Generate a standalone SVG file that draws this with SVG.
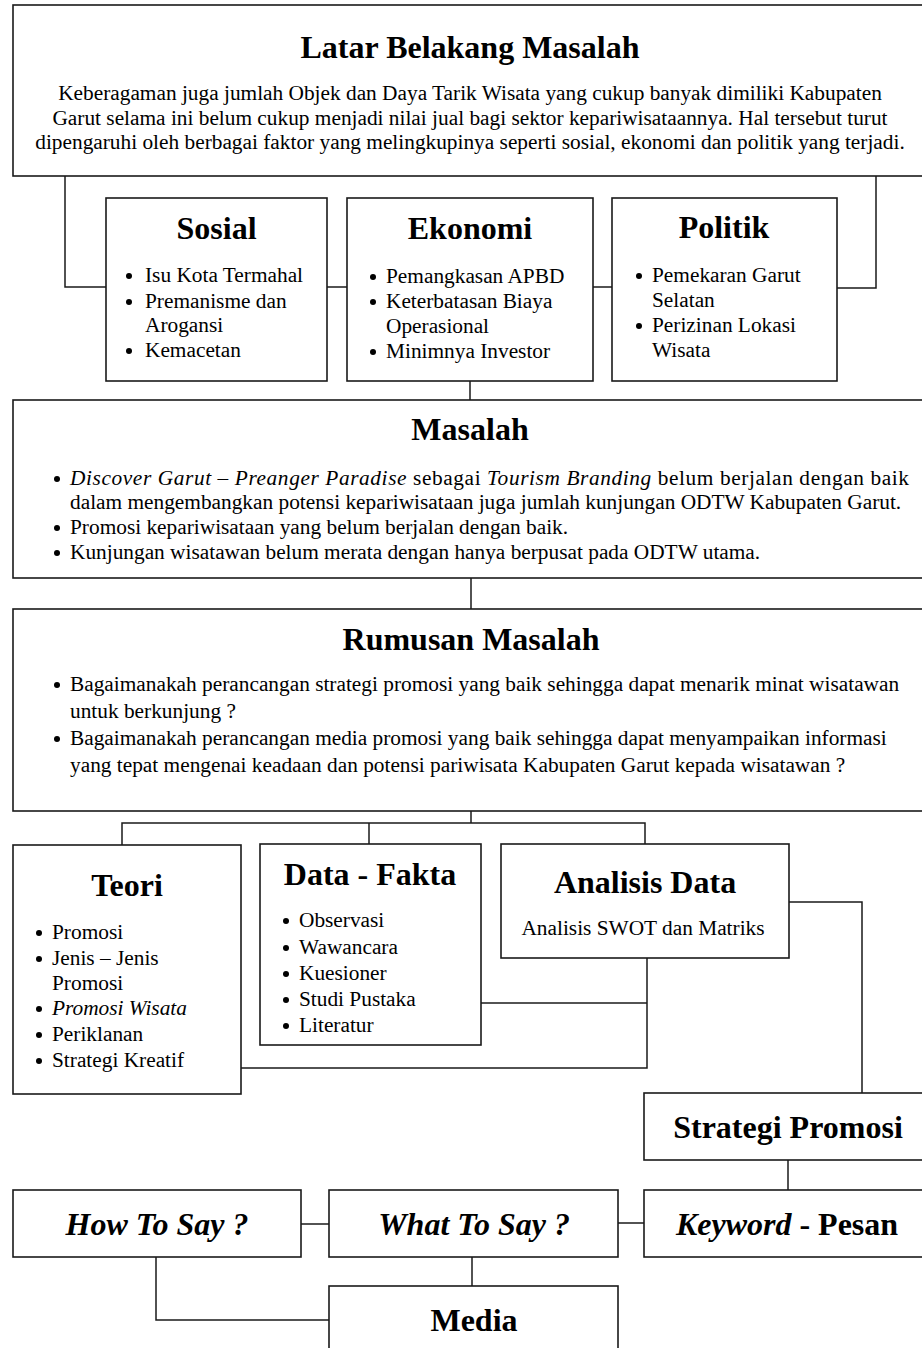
<svg xmlns="http://www.w3.org/2000/svg" width="922" height="1348" viewBox="0 0 922 1348">
<style>
.box{fill:#fff;stroke:#1a1a1a;stroke-width:1.6}
.con{fill:none;stroke:#1a1a1a;stroke-width:1.5}
.t{font-family:"Liberation Serif","Times New Roman",serif;font-size:32px;font-weight:bold;fill:#000;text-anchor:middle}
.b{font-family:"Liberation Serif","Times New Roman",serif;font-size:21.33px;fill:#000}
.c{text-anchor:middle}
.i{font-style:italic}
.dot{fill:#000}
</style>
<rect width="922" height="1348" fill="#fff"/>
<g id="connectors">
<path class="con" d="M65,176 V287 H106"/>
<path class="con" d="M876,176 V288 H837"/>
<path class="con" d="M327,287 H347"/>
<path class="con" d="M593,287 H612"/>
<path class="con" d="M470,381 V400"/>
<path class="con" d="M471,578 V609"/>
<path class="con" d="M471,811 V823"/>
<path class="con" d="M122,845 V823 H645 V844"/>
<path class="con" d="M369,823 V844"/>
<path class="con" d="M481,1003 H647"/>
<path class="con" d="M647,958 V1068 H241"/>
<path class="con" d="M789,902 H862 V1093"/>
<path class="con" d="M788,1160 V1190"/>
<path class="con" d="M301,1224 H329"/>
<path class="con" d="M618,1223 H644"/>
<path class="con" d="M472,1257 V1286"/>
<path class="con" d="M156,1257 V1320 H329"/>
</g>
<g id="latar">
<rect class="box" x="13" y="5" width="916" height="171"/>
<text class="t" x="470" y="58">Latar Belakang Masalah</text>
<text class="b c" x="470" y="100">Keberagaman juga jumlah Objek dan Daya Tarik Wisata yang cukup banyak dimiliki Kabupaten</text>
<text class="b c" x="470" y="125">Garut selama ini belum cukup menjadi nilai jual bagi sektor kepariwisataannya. Hal tersebut turut</text>
<text class="b c" x="470" y="149">dipengaruhi oleh berbagai faktor yang melingkupinya seperti sosial, ekonomi dan politik yang terjadi.</text>
</g>
<g id="sosial">
<rect class="box" x="106" y="198" width="221" height="183"/>
<text class="t" x="216.5" y="239">Sosial</text>
<circle class="dot" cx="129" cy="276" r="3"/>
<circle class="dot" cx="129" cy="302" r="3"/>
<circle class="dot" cx="129" cy="351" r="3"/>
<text class="b" x="145" y="282">Isu Kota Termahal</text>
<text class="b" x="145" y="308">Premanisme dan</text>
<text class="b" x="145" y="332">Arogansi</text>
<text class="b" x="145" y="357">Kemacetan</text>
</g>
<g id="ekonomi">
<rect class="box" x="347" y="198" width="246" height="183"/>
<text class="t" x="470" y="239">Ekonomi</text>
<circle class="dot" cx="373" cy="277" r="3"/>
<circle class="dot" cx="373" cy="302" r="3"/>
<circle class="dot" cx="373" cy="352" r="3"/>
<text class="b" x="386" y="283">Pemangkasan APBD</text>
<text class="b" x="386" y="308">Keterbatasan Biaya</text>
<text class="b" x="386" y="333">Operasional</text>
<text class="b" x="386" y="358">Minimnya Investor</text>
</g>
<g id="politik">
<rect class="box" x="612" y="198" width="225" height="183"/>
<text class="t" x="724" y="238">Politik</text>
<circle class="dot" cx="639" cy="276" r="3"/>
<circle class="dot" cx="639" cy="326" r="3"/>
<text class="b" x="652" y="282">Pemekaran Garut</text>
<text class="b" x="652" y="307">Selatan</text>
<text class="b" x="652" y="332">Perizinan Lokasi</text>
<text class="b" x="652" y="357">Wisata</text>
</g>
<g id="masalah">
<rect class="box" x="13" y="400" width="916" height="178"/>
<text class="t" x="470" y="440">Masalah</text>
<circle class="dot" cx="57" cy="479" r="3"/>
<circle class="dot" cx="57" cy="528" r="3"/>
<circle class="dot" cx="57" cy="553" r="3"/>
<text class="b" x="70" y="485" textLength="839" lengthAdjust="spacing"><tspan class="i">Discover Garut – Preanger Paradise</tspan> sebagai <tspan class="i">Tourism Branding</tspan> belum berjalan dengan baik</text>
<text class="b" x="70" y="509">dalam mengembangkan potensi kepariwisataan juga jumlah kunjungan ODTW Kabupaten Garut.</text>
<text class="b" x="70" y="534">Promosi kepariwisataan yang belum berjalan dengan baik.</text>
<text class="b" x="70" y="559">Kunjungan wisatawan belum merata dengan hanya berpusat pada ODTW utama.</text>
</g>
<g id="rumusan">
<rect class="box" x="13" y="609" width="916" height="202"/>
<text class="t" x="471" y="650">Rumusan Masalah</text>
<circle class="dot" cx="57" cy="685" r="3"/>
<circle class="dot" cx="57" cy="739" r="3"/>
<text class="b" x="70" y="691">Bagaimanakah perancangan strategi promosi yang baik sehingga dapat menarik minat wisatawan</text>
<text class="b" x="70" y="718">untuk berkunjung ?</text>
<text class="b" x="70" y="745">Bagaimanakah perancangan media promosi yang baik sehingga dapat menyampaikan informasi</text>
<text class="b" x="70" y="772">yang tepat mengenai keadaan dan potensi pariwisata Kabupaten Garut kepada wisatawan ?</text>
</g>
<g id="teori">
<rect class="box" x="13" y="845" width="228" height="249"/>
<text class="t" x="127" y="896">Teori</text>
<circle class="dot" cx="39" cy="933" r="3"/>
<circle class="dot" cx="39" cy="959" r="3"/>
<circle class="dot" cx="39" cy="1009" r="3"/>
<circle class="dot" cx="39" cy="1035" r="3"/>
<circle class="dot" cx="39" cy="1061" r="3"/>
<text class="b" x="52" y="939">Promosi</text>
<text class="b" x="52" y="965">Jenis – Jenis</text>
<text class="b" x="52" y="990">Promosi</text>
<text class="b i" x="52" y="1015">Promosi Wisata</text>
<text class="b" x="52" y="1041">Periklanan</text>
<text class="b" x="52" y="1067">Strategi Kreatif</text>
</g>
<g id="datafakta">
<rect class="box" x="260" y="844" width="221" height="201"/>
<text class="t" x="370" y="885">Data - Fakta</text>
<circle class="dot" cx="286" cy="921" r="3"/>
<circle class="dot" cx="286" cy="948" r="3"/>
<circle class="dot" cx="286" cy="974" r="3"/>
<circle class="dot" cx="286" cy="1000" r="3"/>
<circle class="dot" cx="286" cy="1026" r="3"/>
<text class="b" x="299" y="927">Observasi</text>
<text class="b" x="299" y="954">Wawancara</text>
<text class="b" x="299" y="980">Kuesioner</text>
<text class="b" x="299" y="1006">Studi Pustaka</text>
<text class="b" x="299" y="1032">Literatur</text>
</g>
<g id="analisis">
<rect class="box" x="501" y="844" width="288" height="114"/>
<text class="t" x="645" y="893">Analisis Data</text>
<text class="b c" x="643" y="935">Analisis SWOT dan Matriks</text>
</g>
<g id="strategi">
<rect class="box" x="644" y="1093" width="286" height="67"/>
<text class="t" x="788" y="1138">Strategi Promosi</text>
</g>
<g id="howtosay">
<rect class="box" x="13" y="1190" width="288" height="67"/>
<text class="t i" x="157" y="1235">How To Say ?</text>
</g>
<g id="whattosay">
<rect class="box" x="329" y="1190" width="289" height="67"/>
<text class="t i" x="474" y="1235">What To Say ?</text>
</g>
<g id="keyword">
<rect class="box" x="644" y="1190" width="286" height="67"/>
<text class="t" x="787" y="1235"><tspan class="i">Keyword</tspan> - Pesan</text>
</g>
<g id="media">
<rect class="box" x="329" y="1286" width="289" height="80"/>
<text class="t" x="474" y="1331">Media</text>
</g>
</svg>
